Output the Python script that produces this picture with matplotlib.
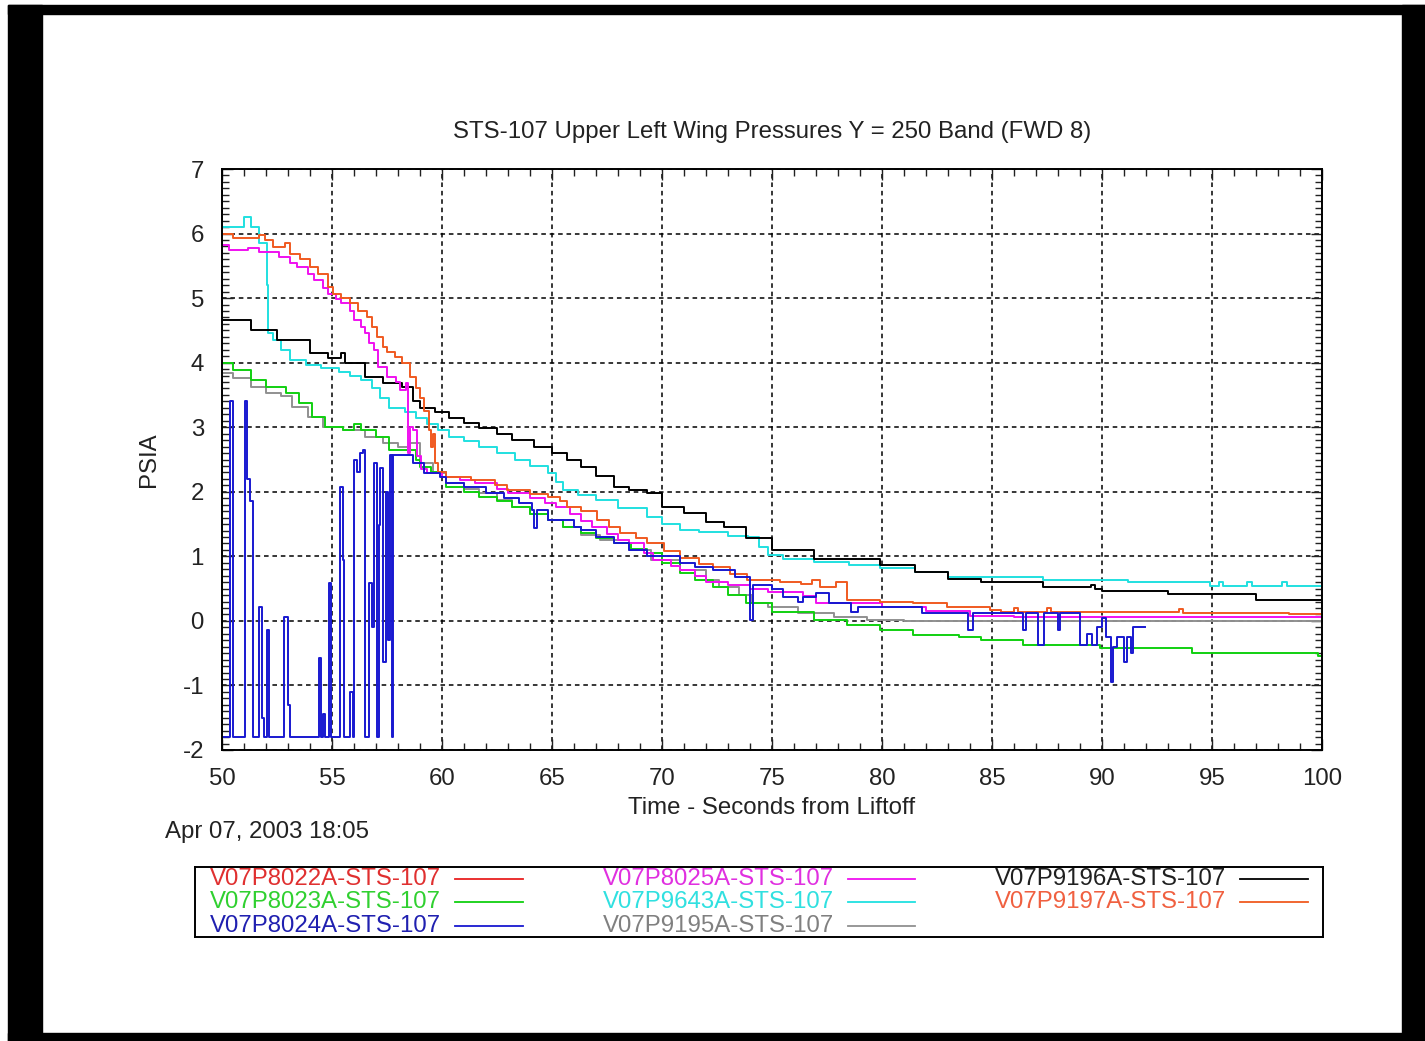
import numpy as np
import matplotlib.pyplot as plt
from matplotlib.patches import Rectangle
from matplotlib.ticker import MultipleLocator

plt.rcParams['font.family'] = ['Liberation Sans', 'DejaVu Sans']
plt.rcParams['axes.unicode_minus'] = False

# ---- data (time in s from liftoff, pressure in psia), step traces ----
labels = ["V07P8022A-STS-107", "V07P8023A-STS-107", "V07P8024A-STS-107",
          "V07P8025A-STS-107", "V07P9643A-STS-107", "V07P9195A-STS-107",
          "V07P9196A-STS-107", "V07P9197A-STS-107"]
colors = ["#e82020", "#10d010", "#1818d0", "#f010f0", "#20e0e0",
          "#909090", "#000000", "#f05a20"]
text_colors = ["#e03030", "#30d030", "#2020b0", "#e030e0", "#30e0e0",
               "#808080", "#202020", "#f06040"]

# V07P8022A - not visible in the plot area
t_8022 = []
v_8022 = []

t_8023 = [50, 50.5, 51.3, 52.0, 52.9, 53.5, 54.1, 54.7, 55.5, 56.0, 56.3, 57.0,
          57.6, 58.8, 59.0, 59.5, 60.2, 61.0, 61.7, 62.5, 63.2, 64.0, 64.8, 65.5,
          66.3, 67.0, 67.8, 68.6, 69.3, 70.0, 70.8, 71.5, 72.3, 73.0, 73.8, 75.0,
          76.9, 78.4, 79.9, 81.4, 83.5, 84.5, 86.4, 89.9, 94.1, 99.8, 100]
v_8023 = [4.0, 3.88, 3.73, 3.62, 3.53, 3.37, 3.16, 3.0, 2.96, 3.05, 2.96, 2.85,
          2.65, 2.5, 2.39, 2.3, 2.07, 2.0, 1.92, 1.85, 1.77, 1.66, 1.56, 1.45,
          1.36, 1.28, 1.2, 1.12, 1.05, 0.9, 0.74, 0.63, 0.53, 0.4, 0.27, 0.14,
          0.02, -0.06, -0.14, -0.22, -0.25, -0.29, -0.37, -0.42, -0.5, -0.55, -0.55]

t_8024 = [50.0, 50.35, 50.5, 51.05, 51.15, 51.28, 51.4, 51.7, 51.8, 51.9, 52.05,
          52.15, 52.8, 53.0, 53.1, 54.4, 54.5, 54.6, 54.7, 54.85, 54.95, 55.35,
          55.5, 55.55, 55.8, 55.95, 56.0, 56.15, 56.25, 56.4, 56.5, 56.7, 56.8,
          56.9, 57.05, 57.15, 57.2, 57.3, 57.45, 57.55, 57.65, 57.72, 57.78,
          58.7, 59.2, 59.9, 60.2, 61.0, 62.0, 62.8, 63.5, 64.1, 64.2, 64.3, 64.8,
          66.0, 66.3, 67.0, 67.8, 68.5, 69.3, 70.8, 71.5, 72.3, 73.3, 74.0, 74.15,
          75.0, 75.5, 76.2, 76.4, 77.0, 77.6, 78.6, 78.9, 81.8, 83.9, 84.15, 86.4,
          86.55, 87.1, 87.35, 88.0, 88.1, 89.0, 89.3, 89.55, 89.75, 90.0, 90.2,
          90.4, 90.5, 90.7, 91.0, 91.15, 91.3, 91.4, 91.95]
v_8024 = [-1.8, 3.4, -1.8, 3.4, 2.2, 1.85, -1.8, 0.22, -1.5, -1.8, -0.14,
          -1.8, 0.06, -1.3, -1.8, -0.58, -1.8, -1.45, -1.8, 0.58, -1.8, 2.08,
          0.94, -1.8, -1.1, -1.8, 2.5, 2.3, 2.6, 2.65, -1.8, 0.58, -0.09,
          2.45, -1.8, 1.49, 2.37, -0.63, 2.0, -0.29, 2.57, -1.8, 2.57,
          2.45, 2.29, 2.23, 2.13, 2.07, 1.98, 1.9, 1.83, 1.72, 1.44, 1.72, 1.56,
          1.45, 1.41, 1.3, 1.2, 1.1, 1.0, 0.9, 0.84, 0.79, 0.68, 0.02, 0.55,
          0.5, 0.37, 0.3, 0.37, 0.43, 0.27, 0.14, 0.22, 0.12, -0.14, 0.12, -0.14,
          0.12, -0.37, 0.12, -0.14, 0.12, -0.37, -0.2, -0.37, -0.1, 0.05, -0.25,
          -0.94, -0.4, -0.25, -0.63, -0.25, -0.5, -0.1, -0.1]

t_8025 = [50, 50.3, 51.2, 51.7, 52.6, 53.1, 53.4, 53.9, 54.2, 54.6, 54.8, 55.2,
          55.4, 55.8, 56.0, 56.3, 56.5, 56.7, 56.9, 57.1, 57.5, 57.9, 58.1, 58.35,
          58.45, 58.55, 58.7, 58.85, 59.05, 59.3, 60.0, 60.8, 61.5, 62.5, 63.0,
          64.0, 64.7, 65.2, 65.8, 66.3, 66.8, 67.5, 68.0, 68.5, 69.2, 69.6, 70.4,
          70.8, 71.5, 72.0, 73.0, 74.0, 74.8, 76.4, 77.0, 80.0, 82.0, 84.0, 86.0, 100]
v_8025 = [5.82, 5.75, 5.78, 5.72, 5.64, 5.55, 5.48, 5.38, 5.28, 5.15, 5.07, 4.98,
          4.92, 4.8, 4.66, 4.55, 4.46, 4.3, 4.2, 3.93, 3.78, 3.7, 3.58, 3.68,
          2.6, 3.0, 2.96, 2.55, 2.35, 2.29, 2.23, 2.18, 2.13, 2.05, 1.98,
          1.9, 1.82, 1.77, 1.65, 1.55, 1.46, 1.35, 1.26, 1.2, 1.05, 0.95, 0.85,
          0.79, 0.7, 0.6, 0.55, 0.5, 0.45, 0.38, 0.27, 0.22, 0.15, 0.08, 0.06, 0.06]

t_9643 = [50, 51.0, 51.3, 51.7, 52.05, 52.1, 52.3, 52.7, 53.1, 53.8, 54.5, 55.3,
          55.8, 56.3, 56.8, 57.2, 57.6, 58.3, 58.8, 59.3, 59.8, 60.3, 61.0, 61.7,
          62.5, 63.3, 64.0, 64.8, 65.2, 65.5, 66.2, 67.0, 68.0, 69.3, 70.0, 70.8,
          71.7, 73.0, 73.9, 74.4, 74.8, 75.5, 76.9, 78.5, 79.9, 81.5, 83.0, 87.3,
          91.2, 94.9, 95.3, 95.5, 96.6, 96.8, 98.2, 98.4, 100]
v_9643 = [6.1, 6.25, 6.1, 5.85, 5.2, 4.46, 4.35, 4.2, 4.04, 3.97, 3.92, 3.85,
          3.8, 3.73, 3.6, 3.45, 3.3, 3.24, 3.14, 3.05, 2.95, 2.85, 2.78, 2.7,
          2.6, 2.5, 2.4, 2.29, 2.15, 2.03, 1.95, 1.87, 1.75, 1.61, 1.5, 1.41,
          1.38, 1.32, 1.3, 1.15, 1.02, 0.96, 0.91, 0.86, 0.82, 0.75, 0.68, 0.63,
          0.6, 0.54, 0.6, 0.54, 0.6, 0.54, 0.6, 0.54, 0.54]

t_9195 = [50, 50.5, 51.3, 52.0, 52.7, 53.2, 53.9, 54.6, 55.5, 56.5, 57.3, 58.0,
          58.5, 59.0, 59.6, 60.2, 61.0, 61.7, 62.5, 63.2, 64.0, 64.8, 65.5, 66.3,
          67.2, 68.5, 69.5, 70.8, 72.0, 72.6, 73.5, 74.1, 74.8, 76.2, 77.8, 79.3,
          81.0, 100]
v_9195 = [3.84, 3.76, 3.62, 3.53, 3.48, 3.31, 3.16, 3.0, 2.96, 2.85, 2.76, 2.7,
          2.75, 2.45, 2.29, 2.13, 2.05, 1.98, 1.88, 1.77, 1.66, 1.56, 1.45, 1.33,
          1.25, 1.1, 0.95, 0.79, 0.63, 0.53, 0.4, 0.27, 0.22, 0.12, 0.06, 0.02,
          0.0, 0.0]

t_9196 = [50, 51.3, 52.5, 54.0, 54.8, 55.4, 55.6, 56.5, 57.3, 58.2, 58.7, 59.0,
          59.7, 60.3, 61.0, 61.7, 62.5, 63.2, 64.2, 65.0, 65.7, 66.3, 67.0, 67.8,
          68.5, 69.3, 70.0, 71.0, 72.0, 72.8, 73.8, 75.0, 76.9, 79.9, 81.5, 83.0,
          84.5, 87.3, 89.5, 89.7, 90.0, 93.0, 97.0, 100]
v_9196 = [4.66, 4.5, 4.35, 4.15, 4.07, 4.15, 4.0, 3.78, 3.68, 3.62, 3.4, 3.3,
          3.24, 3.14, 3.06, 2.99, 2.9, 2.8, 2.7, 2.6, 2.5, 2.39, 2.25, 2.07,
          2.03, 1.98, 1.77, 1.67, 1.53, 1.46, 1.28, 1.1, 0.96, 0.87, 0.76, 0.65,
          0.6, 0.53, 0.55, 0.5, 0.47, 0.42, 0.33, 0.33]

t_9197 = [50, 50.5, 51.7, 51.95, 52.3, 52.85, 53.1, 53.55, 54.0, 54.35, 54.8,
          55.05, 55.4, 55.8, 56.2, 56.6, 56.8, 57.05, 57.3, 57.5, 57.85, 58.2,
          58.55, 58.8, 59.0, 59.2, 59.4, 59.5, 59.6, 59.7, 59.8, 60.2, 61.3, 62.4,
          62.95, 64.0, 64.8, 65.35, 65.7, 66.3, 67.05, 67.6, 68.1, 68.8, 69.3,
          70.1, 70.8, 71.7, 72.3, 73.1, 73.85, 75.35, 76.3, 76.8, 77.2, 77.9,
          78.4, 79.9, 81.4, 82.95, 84.9, 85.4, 86.0, 86.2, 87.5, 87.7, 93.5, 93.7,
          98.5, 100]
v_9197 = [6.0, 5.93, 5.97, 5.9, 5.79, 5.85, 5.69, 5.6, 5.48, 5.38, 5.17,
          5.07, 5.0, 4.92, 4.8, 4.7, 4.55, 4.4, 4.25, 4.16, 4.09, 4.0,
          3.78, 3.6, 3.45, 3.25, 2.95, 2.7, 2.9, 2.45, 2.3, 2.23, 2.18, 2.1,
          2.03, 1.97, 1.92, 1.85, 1.77, 1.7, 1.56, 1.45, 1.36, 1.28, 1.2,
          1.08, 0.97, 0.88, 0.84, 0.72, 0.63, 0.61, 0.57, 0.64, 0.53, 0.6,
          0.33, 0.3, 0.27, 0.22, 0.17, 0.14, 0.2, 0.14, 0.2, 0.14, 0.19, 0.12,
          0.1, 0.1]

series = [(t_8022, v_8022), (t_8023, v_8023), (t_8024, v_8024), (t_8025, v_8025),
          (t_9643, v_9643), (t_9195, v_9195), (t_9196, v_9196), (t_9197, v_9197)]
draw_order = [5, 1, 4, 6, 3, 0, 7, 2]

W, H = 1425, 1041
fs = 17.3
fig = plt.figure(figsize=(W / 100, H / 100), dpi=100)


def box(x0, y0, x1, y1):
    # rectangle given in pixel coords (origin top-left)
    return [x0 / W, 1 - y1 / H, (x1 - x0) / W, (y1 - y0) / H]


# black scanned-page frame
for x0, y0, x1, y1 in [(8, 5, 42, 1041), (8, 5, 1425, 14),
                       (1402, 5, 1425, 1041), (8, 1033, 1425, 1041)]:
    l, b, w, h = box(x0, y0, x1, y1)
    fig.add_artist(Rectangle((l, b), w, h, transform=fig.transFigure,
                             color="black", zorder=0))

ax = fig.add_axes(box(222, 169, 1322, 750))
for i in draw_order:
    t, v = series[i]
    if len(t):
        ax.step(t, v, where="post", color=colors[i], lw=1.4)

ax.set_xlim(50, 100)
ax.set_ylim(-2, 7)
ax.xaxis.set_major_locator(MultipleLocator(5))
ax.xaxis.set_minor_locator(MultipleLocator(1))
ax.yaxis.set_major_locator(MultipleLocator(1))
ax.yaxis.set_minor_locator(MultipleLocator(0.1))
ax.tick_params(which="both", direction="in", top=True, right=True,
               labelsize=fs, width=1.0, colors="#222222")
ax.tick_params(which="major", length=8, pad=13)
ax.tick_params(which="minor", length=5)
ax.grid(True, which="major", color="black", ls=(0, (3, 2.5)), lw=1.1)
for s in ax.spines.values():
    s.set_linewidth(1.4)

ax.set_title("STS-107 Upper Left Wing Pressures Y = 250 Band (FWD 8)",
             fontsize=fs, color="#222222", pad=22)
ax.set_xlabel("Time - Seconds from Liftoff", fontsize=fs, color="#222222",
              labelpad=5)
ax.set_ylabel("PSIA", fontsize=fs, color="#222222", labelpad=16)
fig.text(165 / W, 1 - 832 / H, "Apr 07, 2003 18:05", fontsize=fs,
         color="#222222", va="center")

# legend box, laid out in pixel units
lax = fig.add_axes(box(195, 867, 1323, 937))
lax.set_xlim(195, 1323)
lax.set_ylim(937, 867)
lax.set_xticks([])
lax.set_yticks([])
for s in lax.spines.values():
    s.set_linewidth(1.4)
col_x = [210, 603, 995]
line_x = [(455, 523), (848, 915), (1240, 1308)]
row_y = [879, 902, 926]
slots = [(0, 0), (0, 1), (0, 2), (1, 0), (1, 1), (1, 2), (2, 0), (2, 1)]
for i, (c, r) in enumerate(slots):
    lax.text(col_x[c], row_y[r], labels[i], color=text_colors[i], fontsize=fs,
             va="center", ha="left")
    lax.plot(line_x[c], [row_y[r], row_y[r]], color=colors[i], lw=1.3)

fig.savefig("out.png", dpi=100)
